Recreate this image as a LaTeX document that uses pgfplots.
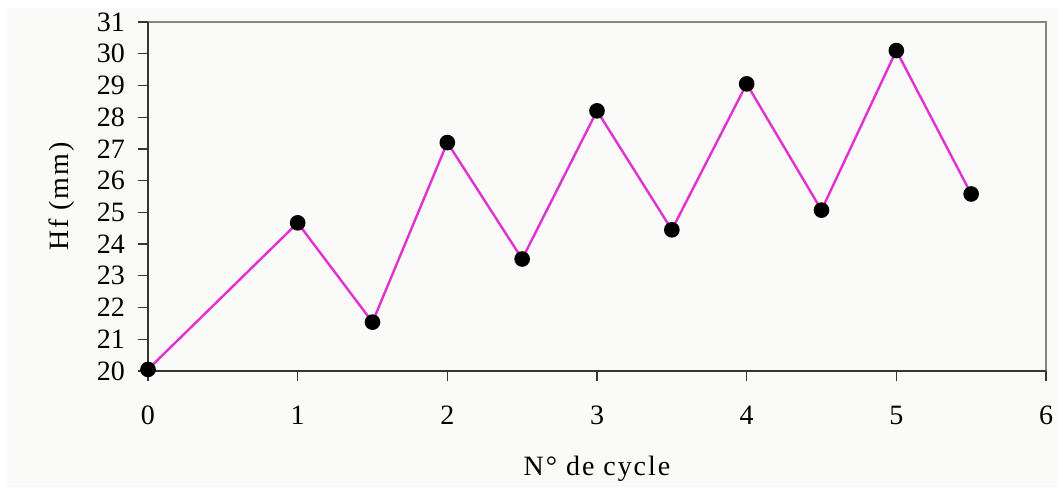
\documentclass[border=0pt]{standalone}
\usepackage{pgfplots}
\pgfplotsset{compat=1.18}
\usepackage{fontspec}
\setmainfont{Liberation Serif}
\newfontfamily\lsfont{Liberation Serif}[LetterSpace=7]
\definecolor{bg}{HTML}{FAFAF8}
\definecolor{mag}{RGB}{226,48,210}
\definecolor{darkax}{HTML}{2F3835}
\definecolor{lightax}{HTML}{7E8885}
\begin{document}
\begin{tikzpicture}
\useasboundingbox (-74pt,-58.5pt) rectangle (457.5pt,185.5pt);
\fill[bg] (-70.5pt,-58pt) rectangle (454.5pt,181.5pt);
\begin{axis}[
  scale only axis,
  width=449pt, height=174.5pt,
  xmin=0, xmax=6, ymin=20, ymax=31,
  xtick={0,1,2,3,4,5,6},
  ytick={20,21,...,31},
  xtick pos=bottom, ytick pos=left,
  tick align=outside,
  major tick length=5pt,
  tick style={draw=darkax, line width=0.6pt},
  axis line style={draw=none},
  /pgf/number format/assume math mode=true,
  ticklabel style={font=\fontsize{14}{15}\selectfont},
  xticklabel style={yshift=-9pt},
  yticklabel style={xshift=-3pt},
  xlabel={N° de cycle},
  ylabel={Hf (mm)},
  every axis x label/.style={at={(axis description cs:0.5,0)}, anchor=center, yshift=-49pt, font=\lsfont\fontsize{14}{15}\selectfont},
  every axis y label/.style={at={(axis description cs:0,0.5)}, xshift=-43pt, rotate=90, anchor=center, font=\lsfont\fontsize{14}{15}\selectfont},
  clip=false,
]
\draw[lightax, line width=1pt] (rel axis cs:0,1) -- (rel axis cs:1,1) -- (rel axis cs:1,0);
\draw[darkax, line width=1.4pt] (rel axis cs:0,1) -- (rel axis cs:0,0) -- (rel axis cs:1,0);
\addplot[mag, line width=1.2pt, mark=*, mark size=3.3pt, mark options={black, fill=black}]
coordinates {
(0,20.05) (1,24.67) (1.5,21.54) (2,27.2) (2.5,23.53) (3,28.2) (3.5,24.45) (4,29.05) (4.5,25.07) (5,30.1) (5.5,25.58)
};
\end{axis}
\end{tikzpicture}
\end{document}
